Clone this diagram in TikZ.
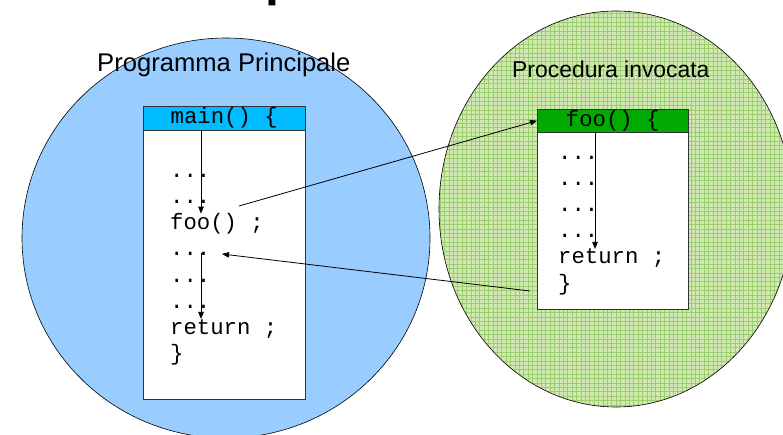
\documentclass[tikz,border=0pt]{standalone}
\usepackage{fontspec}
\setmainfont{Liberation Sans}
\newfontfamily\codefont{Liberation Mono}
\usetikzlibrary{arrows.meta}
\definecolor{mainblue}{RGB}{153,204,255}
\definecolor{headblue}{RGB}{0,187,255}
\definecolor{headgreen}{RGB}{0,170,0}
\definecolor{procgreen}{RGB}{208,232,178}
\definecolor{gridgreen}{RGB}{155,204,110}
\tikzset{
  codeline/.style={anchor=base west, inner sep=0pt, font=\codefont\fontsize{22.3}{26}\selectfont},
  headbox/.style={draw=black!80, anchor=north west, inner sep=0pt, font=\codefont\fontsize{22.3}{26}\selectfont},
  bodybox/.style={draw=black!80, fill=white, anchor=north west, inner sep=0pt},
  flow/.style={-{Triangle[length=7pt,width=5.5pt]}, line width=0.8pt},
  label/.style={anchor=base west, inner sep=0pt},
}
\newcommand\dd{...}

\begin{document}
\begin{tikzpicture}[x=1pt, y=-1pt]
\useasboundingbox (0,0) rectangle (783,435);
\clip (0,0) rectangle (783,435);
% cut-off title
\node[label, font=\fontsize{50}{50}\selectfont\bfseries] (titlefrag) at (265,-4.5) {p};
% main program
\draw[fill=mainblue, line width=0.6pt] (226,238) ellipse [x radius=204pt, y radius=200pt];
% called procedure
\begin{scope}
  \clip (616,209) ellipse [x radius=177pt, y radius=198pt];
  \fill[procgreen] (430,0) rectangle (800,420);
  \draw[gridgreen, line width=0.35pt, step=4.4pt] (430,0) grid (800,420);
\end{scope}
\draw[line width=0.6pt] (616,209) ellipse [x radius=177pt, y radius=198pt];
\node[label, font=\fontsize{25.6}{30}\selectfont] (mainlabel) at (97,72) {Programma Principale};
\node[label, font=\fontsize{22.9}{27}\selectfont] (proclabel) at (512,78) {Procedura invocata};
% main() box
\node[bodybox, minimum width=162pt, minimum height=269pt] (mainbody) at (143,130) {};
\node[headbox, fill=headblue, minimum width=162pt, minimum height=24pt] (mainhead) at (143,106) {main() \{};
\foreach \t [count=\i] in {\dd,\dd,foo() ;,\dd,\dd,\dd,return ;,\}}
  \node[codeline] (m\i) at (170,152+26*\i) {\t};
% foo() box
\node[bodybox, minimum width=151pt, minimum height=177pt] (foobody) at (537,132) {};
\node[headbox, fill=headgreen, minimum width=151pt, minimum height=23pt] (foohead) at (537,109) {foo() \{};
\foreach \t [count=\i] in {\dd,\dd,\dd,\dd,return ;,\}}
  \node[codeline] (f\i) at (558,134+26*\i) {\t};
% control flow
\coordinate (mainflow) at (201,0);
\coordinate (fooflow) at (595,0);
\coordinate (callsite) at (239,206);
\coordinate (retsite) at (530,291);
\coordinate (resume) at (222,254);
\draw[flow] (mainhead.south -| mainflow) -- (m3.north -| mainflow);
\draw[flow] (m4.north -| mainflow) -- (m7.north -| mainflow);
\draw[flow] (foohead.south -| fooflow) -- (f5.north -| fooflow);
\draw[flow] (callsite) -- (foohead.west);
\draw[flow] (retsite) -- (resume);
\end{tikzpicture}
\end{document}
